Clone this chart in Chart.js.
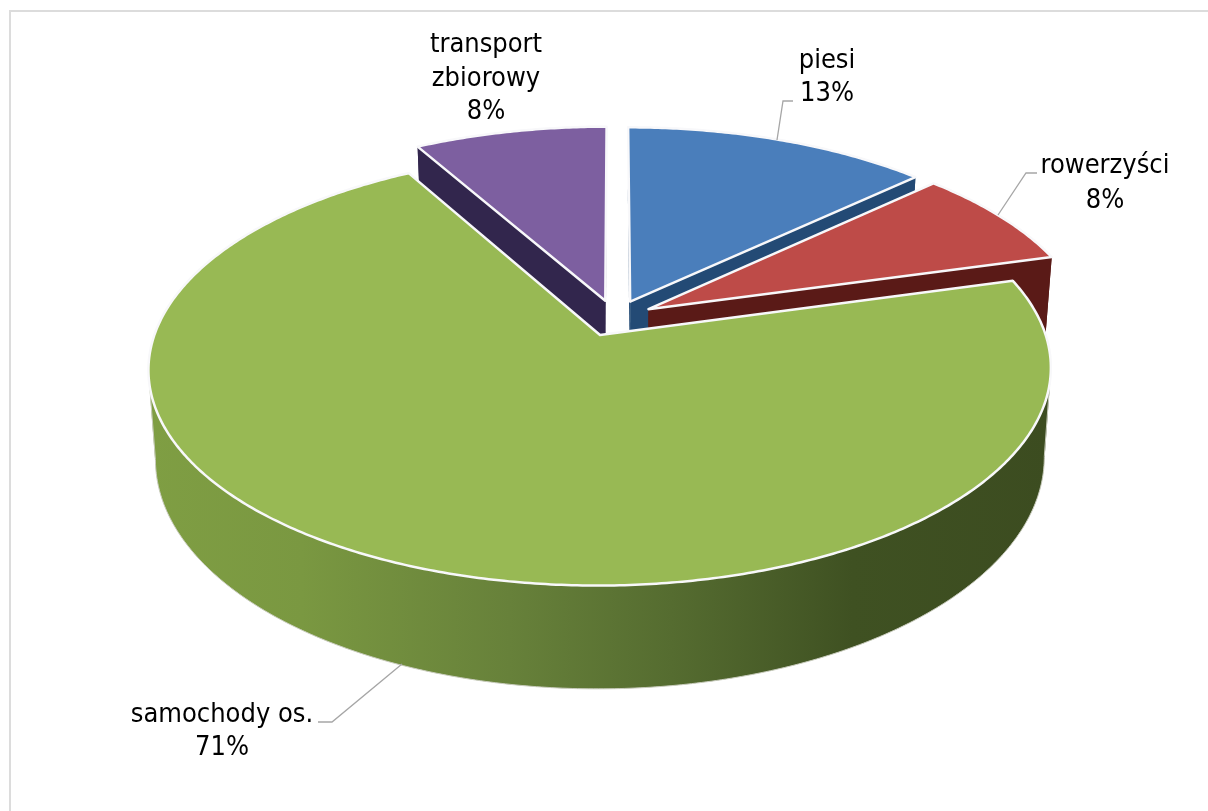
<!DOCTYPE html>
<html>
<head>
<meta charset="utf-8">
<script src="https://cdn.jsdelivr.net/npm/chart.js@4"></script>
<style>
  html, body { margin: 0; background: #fff; }
  canvas { display: block; }
</style>
</head>
<body>
<canvas id="chartMy" width="1208" height="811"></canvas>
<script>
// data
const categories = ['piesi', 'rowerzyści', 'samochody os.', 'transport zbiorowy'];
const shares = [13, 7.7, 71.1, 8.2];

// colours
const topColors = ['#4a7ebb', '#be4b48', '#98b954', '#7d5fa0'];
const wallColors = ['#234a75', '#5a1a17', '#5f7a33', '#32264d'];

// label layout: centre x, first baseline, text lines
const labelLines = [['piesi'], ['rowerzyści'], ['samochody os.'], ['transport', 'zbiorowy']];
const labelX = [827, 1105, 222, 486];
const labelY = [68, 173, 722, 52];
const labelStep = [33, 35, 33, 33.5];
const leaders = [
  [[777, 140], [783, 101], [793, 101]],
  [[998, 215], [1026, 173], [1037, 173]],
  [[402, 664], [332, 722], [318, 722]]
];

// view of the pie: flat circle -> screen
const CX = 615, CY = 318, RX = 440, RY = 206, PERSP = 0.155, DEPTH = 86, SHRINK = 0.015;

function project(fx, fy, z) {
  const w = 1 - PERSP * fy;
  return [CX + RX * fx / w * (1 - z * SHRINK), CY + RY * fy / w + z * DEPTH / w];
}

function trace(ctx, pts) {
  ctx.beginPath();
  pts.forEach((p, i) => i ? ctx.lineTo(p[0], p[1]) : ctx.moveTo(p[0], p[1]));
  ctx.closePath();
}

// all quads the same way round, so the fold at the sides of the pie does not cancel out
function traceStrip(ctx, top, bottom) {
  ctx.beginPath();
  for (let k = 0; k < top.length - 1; k++) {
    const q = [top[k], top[k + 1], bottom[k + 1], bottom[k]];
    let area = 0;
    q.forEach((a, m) => {
      const b = q[(m + 1) % 4];
      area += a[0] * b[1] - b[0] * a[1];
    });
    if (area < 0) q.reverse();
    q.forEach((a, m) => m ? ctx.lineTo(a[0], a[1]) : ctx.moveTo(a[0], a[1]));
    ctx.closePath();
  }
}

const pie3d = {
  id: 'pie3d',
  beforeDraw(chart) {
    const ctx = chart.ctx;
    ctx.save();
    ctx.fillStyle = '#fff';
    ctx.fillRect(0, 0, chart.width, chart.height);
    ctx.strokeStyle = '#dcdcdc';
    ctx.lineWidth = 2;
    // frame runs off the right and bottom of the picture
    ctx.strokeRect(10, 11, 1300, 900);
    ctx.restore();
  },
  // the arcs come from the library, only the drawing goes through the 3d view
  beforeDatasetDraw(chart, args) {
    const ctx = chart.ctx;
    const arcs = args.meta.data;
    [3, 0, 1, 2].forEach(i => {
      const arc = arcs[i];
      const p = arc.getProps(['startAngle', 'endAngle', 'outerRadius'], true);
      const t = arc.options.offset / p.outerRadius;
      const mid = (p.startAngle + p.endAngle) / 2;
      const ox = Math.cos(mid) * t, oy = Math.sin(mid) * t;
      const rim = [];
      const n = Math.ceil((p.endAngle - p.startAngle) / 0.01);
      for (let k = 0; k <= n; k++) {
        const a = p.startAngle + (p.endAngle - p.startAngle) * k / n;
        rim.push([ox + Math.cos(a), oy + Math.sin(a)]);
      }
      const apex = [ox, oy];
      const first = rim[0], last = rim[rim.length - 1];
      const topRim = rim.map(q => project(q[0], q[1], 0));
      const lowRim = rim.map(q => project(q[0], q[1], 1));

      ctx.save();
      ctx.lineJoin = 'round';

      // outer wall
      if (i === 2) {
        const g = ctx.createLinearGradient(148, 0, 1051, 0);
        g.addColorStop(0, '#7f9e43');
        g.addColorStop(0.17, '#7a9841');
        g.addColorStop(0.4, '#67813a');
        g.addColorStop(0.58, '#556c30');
        g.addColorStop(0.78, '#3f5122');
        g.addColorStop(1, '#3c4c20');
        ctx.fillStyle = g;
      } else {
        ctx.fillStyle = wallColors[i];
      }
      traceStrip(ctx, topRim, lowRim);
      ctx.fill();

      // thin light edge: lower rim between its side extremes, plus the two side lines
      let left = 0, right = 0;
      lowRim.forEach((q, k) => {
        if (q[0] < lowRim[left][0]) left = k;
        if (q[0] > lowRim[right][0]) right = k;
      });
      ctx.beginPath();
      ctx.moveTo(topRim[right][0], topRim[right][1]);
      for (let k = right; k <= left; k++) ctx.lineTo(lowRim[k][0], lowRim[k][1]);
      ctx.lineTo(topRim[left][0], topRim[left][1]);
      ctx.strokeStyle = '#c9ccbd';
      ctx.lineWidth = 1;
      ctx.stroke();

      // radial walls
      ctx.fillStyle = wallColors[i];
      [first, last].forEach(e => {
        trace(ctx, [project(apex[0], apex[1], 0), project(e[0], e[1], 0), project(e[0], e[1], 1), project(apex[0], apex[1], 1)]);
        ctx.fill();
      });

      // top face
      trace(ctx, [project(apex[0], apex[1], 0)].concat(topRim));
      ctx.fillStyle = arc.options.backgroundColor;
      ctx.fill();
      ctx.strokeStyle = arc.options.borderColor;
      ctx.lineWidth = arc.options.borderWidth;
      ctx.stroke();
      ctx.restore();
    });
    return false;
  },
  afterDraw(chart) {
    const ctx = chart.ctx;
    ctx.save();
    ctx.strokeStyle = '#a6a6a6';
    ctx.lineWidth = 1.3;
    leaders.forEach(l => {
      ctx.beginPath();
      l.forEach((p, i) => i ? ctx.lineTo(p[0], p[1]) : ctx.moveTo(p[0], p[1]));
      ctx.stroke();
    });
    ctx.fillStyle = '#000';
    ctx.font = '27px "DejaVu Sans Condensed", "DejaVu Sans"';
    ctx.textAlign = 'center';
    ctx.textBaseline = 'alphabetic';
    categories.forEach((c, i) => {
      const lines = labelLines[i].concat(Math.round(shares[i]) + '%');
      lines.forEach((s, j) => ctx.fillText(s, labelX[i], labelY[i] + j * labelStep[i]));
    });
    ctx.restore();
  }
};

// setup
const data = {
  labels: categories,
  datasets: [{
    data: shares,
    backgroundColor: topColors,
    borderColor: '#f8f8fa',
    borderWidth: 2.5,
    offset: 34
  }]
};

// config
const config = {
  type: 'pie',
  data,
  options: {
    responsive: false,
    animation: false,
    plugins: {
      legend: { display: false },
      tooltip: { enabled: false }
    }
  },
  plugins: [pie3d]
};

// render init block
const chartMy = new Chart(document.getElementById('chartMy'), config);
</script>
</body>
</html>
